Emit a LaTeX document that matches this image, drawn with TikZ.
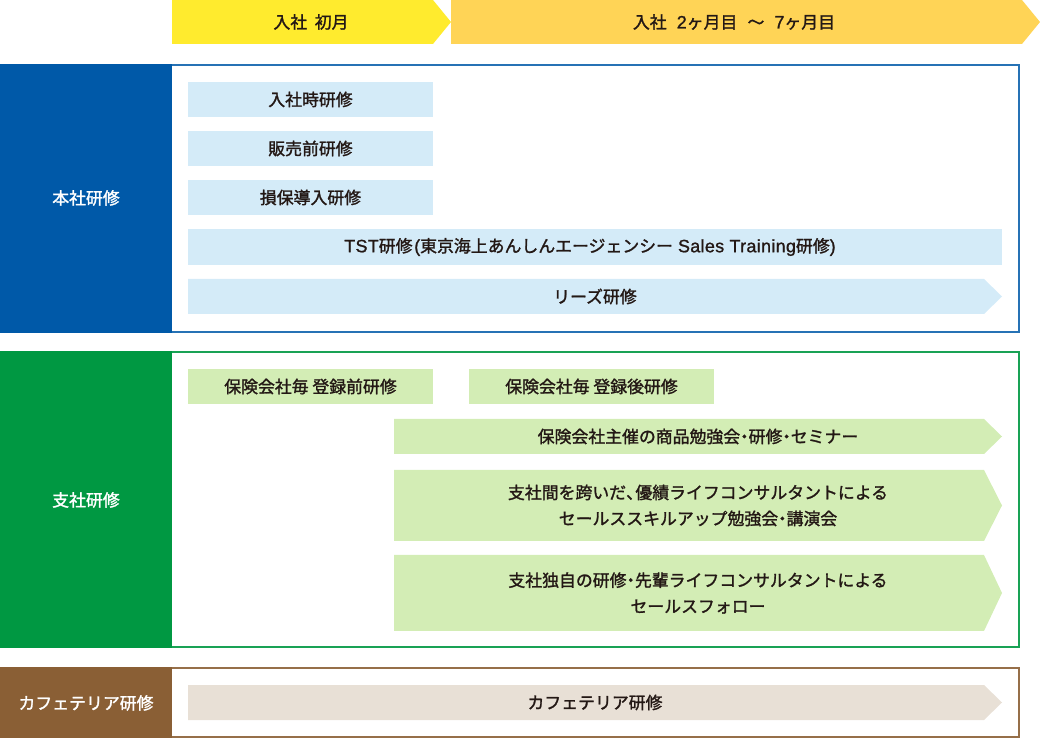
\documentclass[tikz,border=0pt]{standalone}
\usepackage{fontspec}
\newfontfamily\jp{Noto Sans CJK JP}[FakeBold=1.5]
\newfontfamily\lat{Liberation Sans}[FakeBold=1.2,Scale=1.06,LetterSpace=2]
\newcommand\dotj{\makebox[0.5em]{・}}
\newcommand\commaj{\makebox[0.55em][l]{、}}
\definecolor{ink}{HTML}{231815}
\definecolor{hdyellow}{HTML}{FFEB2E}
\definecolor{hdorange}{HTML}{FFD456}
\definecolor{hqblue}{HTML}{0059A8}
\definecolor{brgreen}{HTML}{009842}
\definecolor{cfbrown}{HTML}{8A5F35}
\definecolor{lblue}{HTML}{D4EBF8}
\definecolor{lgreen}{HTML}{D3EDB5}
\definecolor{lbeige}{HTML}{E8E0D6}

\begin{document}
\begin{tikzpicture}[x=0.025cm,y=-0.025cm,
  every node/.style={font={\jp\fontsize{12}{18.5}\selectfont},text=ink,align=center},
  panel/.style={text=white}]
                \useasboundingbox (0,0) rectangle (1040,740);

                % Period headers
                \fill[hdyellow] (172,0) -- (433,0) -- (451,22) -- (433,44) -- (172,44) -- cycle;
                \fill[hdorange] (451,0) -- (1022,0) -- (1040,22) -- (1022,44) -- (451,44) -- cycle;
                \node (first) at (311,22) {入社\hspace{0.45em}初月};
                \node (later) at (734,22) {入社\hspace{0.6em}{\lat 2}ヶ月目\hspace{0.6em}〜\hspace{0.6em}{\lat 7}ヶ月目};

                % Head office training
                \draw[hqblue!85, line width=1.2pt] (1,65) rectangle (1019,332);
                \fill[hqblue] (0,64) rectangle (172,333);
                \node[panel] (hq) at (86,198) {本社研修};
                \fill[lblue] (188,82) rectangle (433,117);
                \fill[lblue] (188,131) rectangle (433,166);
                \fill[lblue] (188,180) rectangle (433,215);
                \fill[lblue] (188,229) rectangle (1002,265);
                \fill[lblue] (188,279) -- (984,279) -- (1002,296.5) -- (984,314) -- (188,314) -- cycle;
                \node (hq1) at (310.5,99.5) {入社時研修};
                \node (hq2) at (310.5,148.5) {販売前研修};
                \node (hq3) at (310.5,197.5) {損保導入研修};
                \node (tst) at (590,247) {{\lat TST}研修\hspace{0.1em}{\lat (}東京海上あんしんエージェンシー\hspace{0.3em}{\lat Sales Training}研修{\lat )}};
                \node (lease) at (595,296.5) {リーズ研修};

                % Branch training
                \draw[brgreen!90, line width=1.2pt] (1,352) rectangle (1019,647);
                \fill[brgreen] (0,351) rectangle (172,648);
                \node[panel] (br) at (86,500) {支社研修};
                \fill[lgreen] (188,369) rectangle (433,404);
                \fill[lgreen] (469,369) rectangle (714,404);
                \fill[lgreen] (394,419) -- (984,419) -- (1002,436.5) -- (984,454) -- (394,454) -- cycle;
                \fill[lgreen] (394,470) -- (984,470) -- (1002,505.5) -- (984,541) -- (394,541) -- cycle;
                \fill[lgreen] (394,555) -- (984,555) -- (1002,593) -- (984,631) -- (394,631) -- cycle;
                \node (br1) at (310.5,386.5) {保険会社毎 登録前研修};
                \node (br2) at (591.5,386.5) {保険会社毎 登録後研修};
                \node (br3) at (698,436.5) {保険会社主催の商品勉強会\dotj 研修\dotj セミナー};
                \node (br4) at (698,505.5) {支社間を跨いだ\commaj 優績ライフコンサルタントによる\\セールススキルアップ勉強会\dotj 講演会};
                \node (br5) at (698,593) {支社独自の研修\dotj 先輩ライフコンサルタントによる\\セールスフォロー};

                % Cafeteria training
                \draw[cfbrown!90, line width=1.2pt] (1,668) rectangle (1019,737);
                \fill[cfbrown] (0,667) rectangle (172,738);
                \node[panel] (cf) at (86,703) {カフェテリア研修};
                \fill[lbeige] (188,685) -- (984,685) -- (1002,702.5) -- (984,720) -- (188,720) -- cycle;
                \node (cf1) at (595,702.5) {カフェテリア研修};
            \end{tikzpicture}
\end{document}
